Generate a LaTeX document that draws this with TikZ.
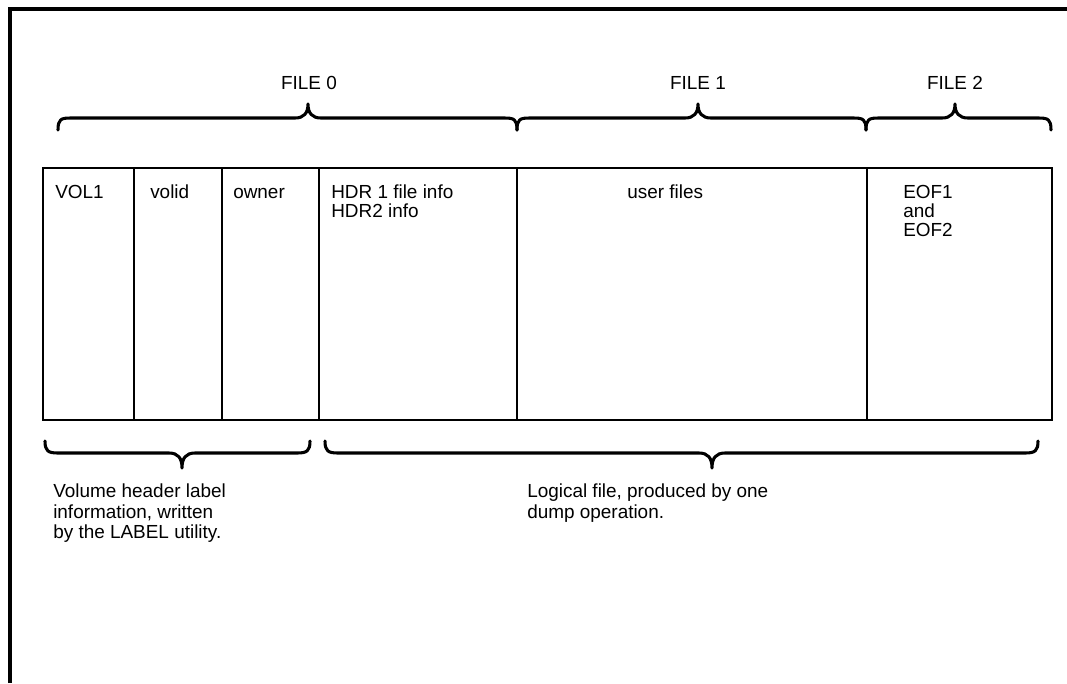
\documentclass[tikz,border=0pt]{standalone}
\usepackage{fontspec}
\setmainfont{Liberation Sans}
\newcommand\tbrace[4]{% x0, tip, x1, name
  \draw[brace] (#1,130) .. controls (#1,119) and (#1+3,118) .. (#1+13,118)
    -- (#2-13,118) .. controls (#2-4,118) and (#2,113) .. (#2,104)
    .. controls (#2,113) and (#2+4,118) .. (#2+13,118)
    -- (#3-13,118) .. controls (#3-3,118) and (#3,119) .. (#3,130);
  \coordinate (#4) at (#2,104);}
\newcommand\bbrace[4]{%
  \draw[brace] (#1,441) .. controls (#1,451) and (#1+3,453) .. (#1+13,453)
    -- (#2-13,453) .. controls (#2-4,453) and (#2,458) .. (#2,468)
    .. controls (#2,458) and (#2+4,453) .. (#2+13,453)
    -- (#3-13,453) .. controls (#3-3,453) and (#3,451) .. (#3,441);
  \coordinate (#4) at (#2,468);}
\begin{document}
\begin{tikzpicture}[x=0.75pt,y=-0.75pt,
  frame/.style={line width=2.8pt},
  cellline/.style={line width=2.1pt},
  brace/.style={line width=2.3pt, line cap=round, line join=round},
  lbl/.style={inner sep=0pt, font=\fontsize{14.2}{14}\selectfont, anchor=base west},
  head/.style={inner sep=0pt, font=\fontsize{14.2}{14}\selectfont, anchor=base},
]
\useasboundingbox (0,0) rectangle (1067,683);
\draw[frame] (10,683) -- (10,9) -- (1067,9);
% table
\draw[cellline] (43,168) rectangle (1052,420);
\foreach \x in {134,222,319,517,867} \draw[cellline] (\x,168) -- (\x,420);
% cell texts
\node[lbl] (vol) at (55,198) {VOL1};
\node[lbl] (volid) at (150,198) {volid};
\node[lbl] (owner) at (233,198) {owner};
\node[lbl] (hdr1) at (331,198) {HDR 1 file info};
\node[lbl] (hdr2) at (331,217) {HDR2 info};
\node[lbl] (user) at (627,198) {user files};
\node[lbl] (eof1) at (903,198) {EOF1};
\node[lbl] (and) at (903,217) {and};
\node[lbl] (eof2) at (903,236) {EOF2};
% top braces and labels
\tbrace{58}{308}{517}{t0}
\tbrace{517}{698}{866}{t1}
\tbrace{866}{955}{1051}{t2}
\node[head] (f0) at (309,89) {FILE 0};
\node[head] (f1) at (698,89) {FILE 1};
\node[head] (f2) at (955,89) {FILE 2};
% bottom braces and texts
\bbrace{45}{182}{310}{b0}
\bbrace{325}{712}{1038}{b1}
\node[lbl] (v1) at (53,497) {Volume header label};
\node[lbl] (v2) at (53,518) {information, written};
\node[lbl] (v3) at (53,538) {by the LABEL utility.};
\node[lbl] (l1) at (527,497) {Logical file, produced by one};
\node[lbl] (l2) at (527,518) {dump operation.};
\end{tikzpicture}
\end{document}
